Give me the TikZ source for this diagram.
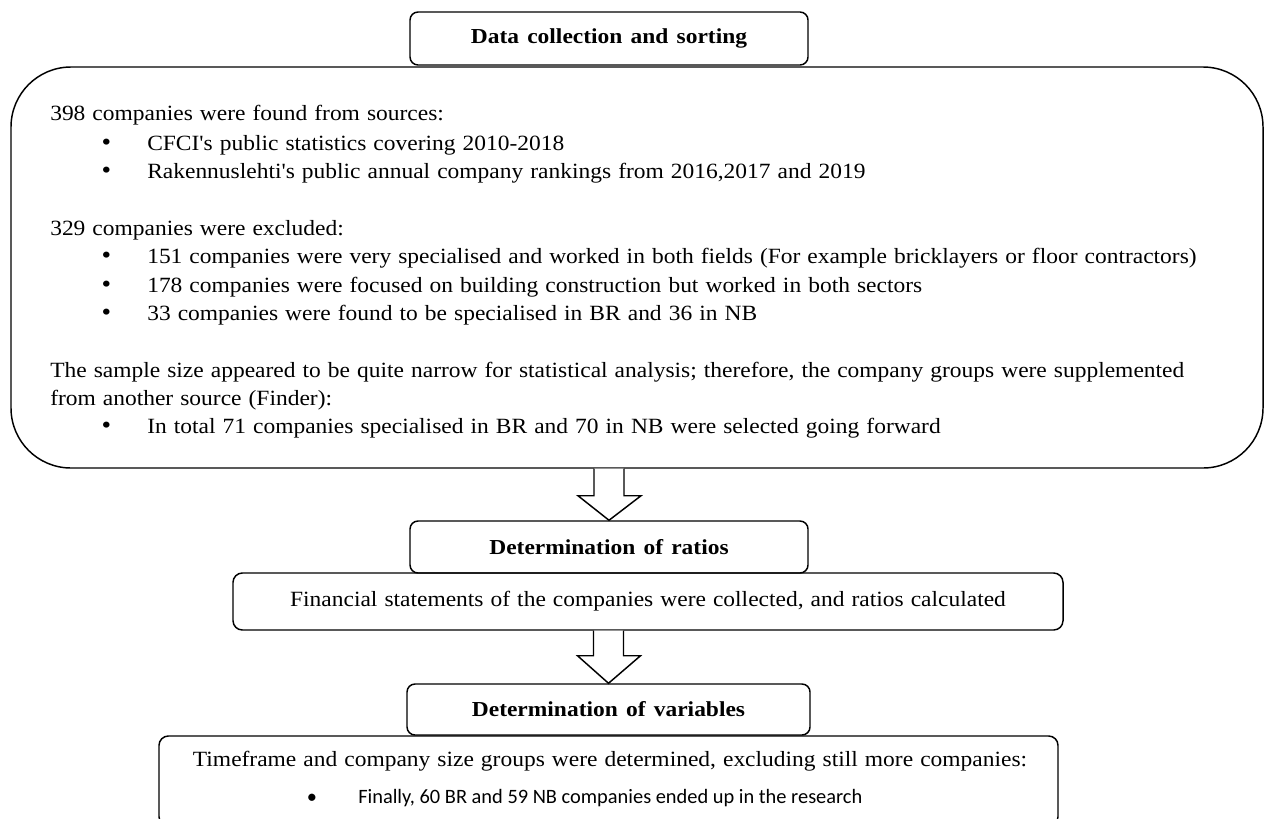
\documentclass[tikz,border=0pt]{standalone}
\usepackage{fontspec}
\setmainfont{Liberation Serif}[FakeStretch=1.08, WordSpace=1.2, Ligatures=TeXOff]
\newfontfamily\calib{Carlito}
\newfontfamily\boldserif{Liberation Serif}[FakeStretch=1.1, WordSpace=1.4]
\usetikzlibrary{calc}
\begin{document}
\begin{tikzpicture}[x=0.75pt,y=-0.75pt,
  boxline/.style={draw, line width=1.1pt},
  titlebox/.style={boxline, rounded corners=6pt, inner sep=0pt,
    font=\fontsize{16}{19}\boldserif\bfseries},
  bigbox/.style={boxline, rounded corners=45pt, inner sep=0pt},
  plainbox/.style={boxline, rounded corners=7pt, inner sep=0pt,
    font=\fontsize{16.3}{19}\selectfont},
  txt/.style={anchor=base west, inner sep=0pt, font=\fontsize{16.3}{19}\selectfont},
  sanstxt/.style={anchor=base west, inner sep=0pt, font=\fontsize{15.3}{18}\calib},
  blockarrow/.style={draw, line width=1.1pt, fill=white, line join=miter}
]
\useasboundingbox (0,0) rectangle (1266,818);

% boxes
\node[bigbox, minimum width=939pt, minimum height=300.75pt] (big) at (637,267.5) {};
\node[titlebox, fill=white, minimum width=298.5pt, minimum height=39.75pt] (t1) at (609,38.5) {Data collection and sorting};
\node[titlebox, minimum width=298.5pt, minimum height=39pt] (t2) at (609,547) {Determination of ratios};
\node[plainbox, minimum width=622.5pt, minimum height=42.75pt] (b3) at (648,601.5) {Financial statements of the companies were collected, and ratios calculated};
\node[titlebox, minimum width=302.25pt, minimum height=38.25pt] (t4) at (608.5,709.5) {Determination of variables};
\node[plainbox, minimum width=674.25pt, minimum height=67.5pt] (b5) at (608.5,781) {};

% big box text
\def\bul{\llap{{\fontsize{19}{19}\selectfont\textbullet}\hspace{27pt}}}
\node[txt] (l1) at (50,120) {398 companies were found from sources:};
\node[txt] (l2) at (147,150) {\bul CFCI's public statistics covering 2010-2018};
\node[txt] (l3) at (147,178) {\bul Rakennuslehti's public annual company rankings from 2016,2017 and 2019};
\node[txt] (l4) at (50,235) {329 companies were excluded:};
\node[txt] (l5) at (147,263) {\bul 151 companies were very specialised and worked in both fields (For example bricklayers or floor contractors)};
\node[txt] (l6) at (147,292) {\bul 178 companies were focused on building construction but worked in both sectors};
\node[txt] (l7) at (147,320) {\bul 33 companies were found to be specialised in BR and 36 in NB};
\node[txt] (l8) at (50,377) {The sample size appeared to be quite narrow for statistical analysis; therefore, the company groups were supplemented};
\node[txt] (l9) at (50,405) {from another source (Finder):};
\node[txt] (l10) at (147,433) {\bul In total 71 companies specialised in BR and 70 in NB were selected going forward};

% last box text
\node[txt, anchor=base] (m1) at (610,766) {Timeframe and company size groups were determined, excluding still more companies:};
\node[sanstxt] (m2) at (358,803) {\llap{\textbullet\hspace{31pt}}Finally, 60 BR and 59 NB companies ended up in the research};

% block arrows
\coordinate (a1) at (t2.north |- big.south);
\draw[blockarrow] ($(a1)+(-15,0)$) -- ($(a1)+(-15,27)$) -- ($(a1)+(-31,27)$) -- (t2.north)
  -- ($(a1)+(32,27)$) -- ($(a1)+(15,27)$) -- ($(a1)+(15,0)$);
\coordinate (a2) at (t4.north |- b3.south);
\draw[blockarrow] ($(a2)+(-15,0)$) -- ($(a2)+(-15,25)$) -- ($(a2)+(-31,25)$) -- (t4.north)
  -- ($(a2)+(32,25)$) -- ($(a2)+(15,25)$) -- ($(a2)+(15,0)$);
\end{tikzpicture}
\end{document}
